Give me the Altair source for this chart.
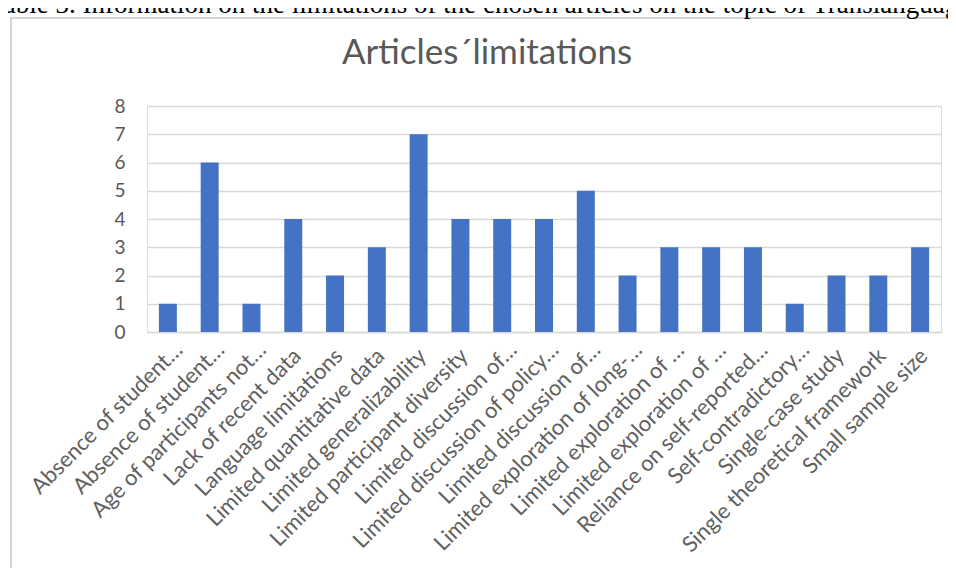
import json
import altair as alt
import pandas as pd

labels = [
    "Absence of student…",
    "Absence of student…",
    "Age of participants not…",
    "Lack of recent data",
    "Language limitations",
    "Limited quantitative data",
    "Limited generalizability",
    "Limited participant diversity",
    "Limited discussion of…",
    "Limited discussion of policy…",
    "Limited discussion of…",
    "Limited exploration of long-…",
    "Limited exploration of …",
    "Limited exploration of …",
    "Reliance on self-reported…",
    "Self-contradictory…",
    "Single-case study",
    "Single theoretical framework",
    "Small sample size",
]
counts = [1, 6, 1, 4, 2, 3, 7, 4, 4, 4, 5, 2, 3, 3, 3, 1, 2, 2, 3]
y_ticks = [0, 1, 2, 3, 4, 5, 6, 7, 8]
title_text = "Articles´limitations"
caption_text = "Table 3. Information on the limitations of the chosen articles on the topic of Translanguaging"

df = pd.DataFrame({"idx": list(range(len(labels))), "label": labels, "count": counts})
label_expr = json.dumps(labels) + "[datum.value]"
trunc_idx = [i for i, l in enumerate(labels) if l.endswith("…")]
trunc_test = "indexof(" + json.dumps(trunc_idx) + ", datum.value) >= 0"

W, H = 794, 226
PAD_L, PAD_T = 139, 98

gray = "#595959"
font = "Lato"

bars = alt.Chart(df).mark_bar(color="#4472C4").encode(
    x=alt.X(
        "idx:O",
        title=None,
        scale=alt.Scale(paddingInner=0.57, paddingOuter=0.285),
        axis=alt.Axis(
            labelExpr=label_expr,
            labelAngle=-45,
            labelAlign="right",
            labelBaseline="middle",
            labelPadding={"condition": {"test": trunc_test, "value": 14}, "value": 20},
            labelOffset={"condition": {"test": trunc_test, "value": 11}, "value": 4},
            ticks=False,
            domainColor="#d9d9d9",
            domainWidth=1.3,
            labelColor="#606060",
            labelFont=font,
            labelFontSize=22,
            labelOverlap=False,
            labelLimit=0,
        ),
    ),
    y=alt.Y(
        "count:Q",
        title=None,
        scale=alt.Scale(domain=[0, 8], nice=False),
        axis=alt.Axis(
            values=y_ticks,
            domain=False,
            ticks=False,
            gridColor="#d9d9d9",
            gridWidth=1.3,
            labelColor=gray,
            labelFont=font,
            labelFontSize=19,
            labelPadding=22,
        ),
    ),
)

frame = alt.Chart(pd.DataFrame({"a": [0]})).mark_rect(
    fill=None, stroke="#d6d6d6", strokeWidth=2
).encode(
    x=alt.value(-PAD_L + 3),
    x2=alt.value(W + 60),
    y=alt.value(-PAD_T + 10),
    y2=alt.value(H + 400),
)

caption = alt.Chart(pd.DataFrame({"t": [caption_text]})).mark_text(
    font="Liberation Serif", fontSize=27, color="black", align="center", baseline="alphabetic"
).encode(
    text="t:N",
    x=alt.value(491 - 8 - PAD_L),
    y=alt.value(-PAD_T + 5),
)

title = alt.Chart(pd.DataFrame({"t": [title_text]})).mark_text(
    font=font, fontSize=35, color=gray, align="center", baseline="alphabetic"
).encode(
    text="t:N",
    x=alt.value(487 - 8 - PAD_L),
    y=alt.value(64 - 8 - PAD_T),
)

chart = alt.layer(frame, caption, title, bars).properties(
    width=W,
    height=H,
    autosize=alt.AutoSizeParams(type="none"),
    padding={"left": PAD_L, "top": PAD_T, "right": 940 - PAD_L - W, "bottom": 560 - PAD_T - H},
).configure_view(stroke=None).configure(background="white")

chart.save("out.html", embed_options={"renderer": "svg", "actions": False})
